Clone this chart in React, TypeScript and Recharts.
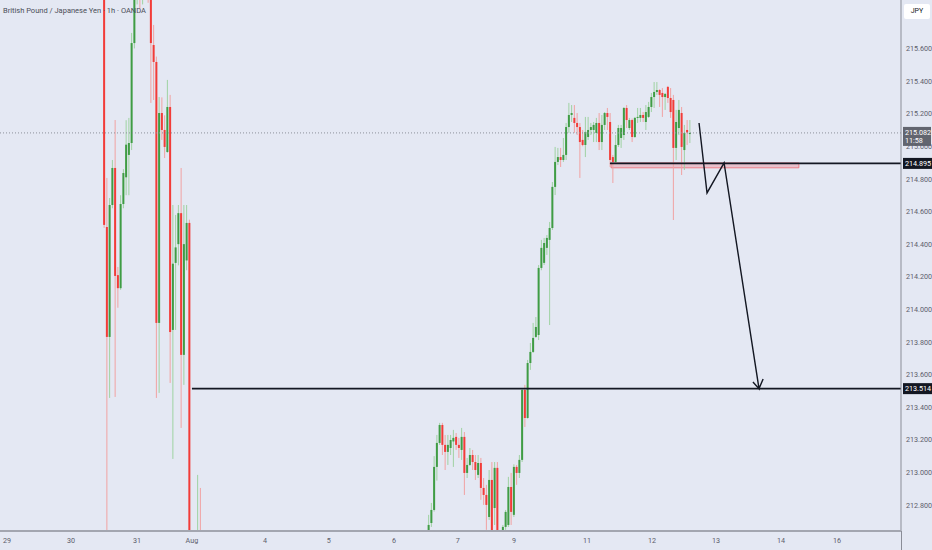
import React from 'react';
import { ComposedChart, Bar, Line, XAxis, YAxis, ReferenceLine, ReferenceArea } from 'recharts';

// ---- data (hourly candles, [open, high, low, close]) ----
const julyStart = 38;
const julyCandles: number[][] = [
  [216.30, 216.40, 214.50, 214.518],
  [214.505, 214.806, 212.30, 213.831],
  [213.831, 214.683, 213.457, 214.640],
  [214.640, 214.916, 214.620, 214.867],
  [214.867, 215.161, 213.463, 214.205],
  [214.21, 214.26, 214.01, 214.13],
  [214.13, 214.70, 214.12, 214.646],
  [214.646, 214.86, 214.62, 214.836],
  [214.81, 215.16, 214.70, 215.01],
  [214.947, 215.174, 214.70, 215.02],
  [215.02, 215.695, 214.977, 215.633],
  [215.633, 216.05, 215.60, 216.00],
  [216.00, 216.10, 215.87, 216.05],
  [216.05, 216.12, 215.84, 215.95],
  [215.95, 216.10, 215.87, 216.05],
  [216.05, 216.20, 215.98, 216.10],
  [216.10, 216.15, 215.88, 216.00],
  [216.00, 216.05, 215.266, 215.633],
  [215.621, 215.744, 215.284, 215.517],
  [215.517, 215.55, 213.457, 213.917],
  [213.917, 215.302, 213.488, 215.204],
  [215.204, 215.30, 215.039, 215.10],
  [215.10, 215.19, 214.928, 214.996],
  [214.965, 215.407, 214.96, 215.241],
  [215.241, 215.315, 213.549, 213.861],
  [213.874, 214.64, 213.083, 214.28],
  [214.285, 214.579, 213.874, 214.38],
  [214.40, 214.64, 214.27, 214.59],
  [214.59, 214.867, 213.273, 213.721],
  [213.721, 214.64, 213.537, 214.40],
  [214.30, 214.64, 214.24, 214.53],
  [214.53, 214.55, 212.20, 212.30],
  [212.30, 212.38, 212.10, 212.25],
  [212.25, 212.35, 212.05, 212.20],
  [212.20, 212.985, 212.10, 212.35],
  [212.35, 212.905, 212.15, 212.25],
];

const augStart = 156;
const augCandles: number[][] = [
  [212.62, 212.74, 212.55, 212.678],
  [212.69, 212.813, 212.666, 212.77],
  [212.77, 213.10, 212.76, 213.034],
  [213.034, 213.230, 212.95, 213.181],
  [213.181, 213.304, 213.169, 213.291],
  [213.291, 213.304, 213.107, 213.169],
  [213.169, 213.23, 213.015, 213.126],
  [213.126, 213.23, 213.046, 213.169],
  [213.15, 213.23, 213.107, 213.199],
  [213.19, 213.261, 213.034, 213.212],
  [213.218, 213.242, 213.138, 213.169],
  [213.169, 213.212, 213.089, 213.150],
  [213.138, 213.273, 213.077, 213.218],
  [213.218, 213.248, 212.862, 212.997],
  [212.997, 213.089, 212.966, 213.046],
  [213.046, 213.150, 213.04, 213.107],
  [213.107, 213.138, 213.015, 213.064],
  [213.064, 213.107, 212.954, 213.015],
  [212.985, 213.107, 212.966, 213.058],
  [213.058, 213.089, 212.832, 212.905],
  [212.905, 212.966, 212.801, 212.862],
  [212.862, 212.924, 212.648, 212.801],
  [212.727, 213.015, 212.709, 212.954],
  [212.954, 213.064, 212.30, 212.35],
  [212.782, 213.064, 212.678, 213.028],
  [213.028, 213.064, 212.30, 212.35],
  [212.35, 212.40, 212.20, 212.30],
  [212.30, 212.678, 212.25, 212.666],
  [212.666, 212.770, 212.648, 212.758],
  [212.678, 212.973, 212.666, 212.911],
  [212.911, 212.997, 212.678, 212.758],
  [212.740, 213.05, 212.727, 213.034],
  [213.034, 213.046, 212.924, 212.997],
  [212.997, 213.107, 212.966, 213.077],
  [213.077, 213.518, 213.064, 213.506],
  [213.506, 213.537, 213.279, 213.334],
  [213.334, 213.69, 213.33, 213.671],
  [213.671, 213.794, 213.629, 213.739],
  [213.739, 213.917, 213.733, 213.825],
  [213.831, 213.953, 213.825, 213.892],
  [213.843, 214.272, 213.812, 214.254],
  [214.254, 214.426, 214.24, 214.377],
  [214.285, 214.438, 214.272, 214.407],
  [214.377, 214.456, 214.334, 214.438],
  [214.426, 214.536, 213.904, 214.499],
  [214.499, 214.781, 214.487, 214.751],
  [214.751, 214.996, 214.701, 214.904],
  [214.904, 214.990, 214.885, 214.934],
  [214.934, 214.99, 214.873, 214.916],
  [214.916, 215.051, 214.904, 214.947],
  [214.947, 215.143, 214.916, 215.118],
  [215.118, 215.266, 215.082, 215.192],
  [215.192, 215.253, 215.149, 215.204],
  [215.174, 215.253, 215.082, 215.143],
  [215.143, 215.204, 215.069, 215.118],
  [215.118, 215.143, 214.806, 215.026],
  [215.039, 215.10, 215.0, 215.008],
  [215.008, 215.180, 214.934, 215.088],
  [215.057, 215.18, 215.039, 215.10],
  [215.10, 215.143, 215.069, 215.118],
  [215.10, 215.149, 215.026, 215.131],
  [215.082, 215.174, 215.026, 215.143],
  [215.143, 215.204, 214.977, 215.026],
  [215.026, 215.192, 214.977, 215.131],
  [215.131, 215.210, 215.10, 215.204],
  [215.204, 215.235, 215.10, 215.180],
  [215.149, 215.204, 214.873, 214.916],
  [214.934, 214.947, 214.775, 214.904],
  [214.904, 215.069, 214.898, 215.008],
  [215.008, 215.131, 214.996, 215.112],
  [215.051, 215.131, 214.990, 215.112],
  [215.069, 215.24, 215.039, 215.235],
  [215.235, 215.253, 215.112, 215.161],
  [215.112, 215.174, 215.10, 215.161],
  [215.161, 215.17, 215.026, 215.057],
  [215.057, 215.18, 215.051, 215.174],
  [215.174, 215.235, 215.143, 215.180],
  [215.174, 215.235, 215.149, 215.192],
  [215.192, 215.21, 215.149, 215.174],
  [215.149, 215.253, 215.10, 215.210],
  [215.180, 215.272, 215.174, 215.241],
  [215.241, 215.327, 215.21, 215.302],
  [215.302, 215.394, 215.235, 215.333],
  [215.333, 215.394, 215.315, 215.345],
  [215.345, 215.35, 215.241, 215.315],
  [215.327, 215.357, 215.180, 215.302],
  [215.302, 215.327, 215.223, 215.321],
  [215.364, 215.37, 215.266, 215.296],
  [215.296, 215.357, 215.174, 215.210],
  [215.284, 215.315, 214.548, 214.990],
  [214.990, 215.223, 214.916, 215.149],
  [215.112, 215.284, 215.069, 215.223],
  [215.204, 215.241, 214.824, 214.996],
  [214.977, 215.131, 214.855, 215.082],
  [215.10, 215.161, 215.008, 215.085],
  [215.075, 215.161, 215.02, 215.082],
];

const slotCount = 327.64;
const dayTickSlots = [2.55, 25.8, 49.8, 69.8, 96.4, 119.6, 143.3, 166.5, 186.9, 213.5, 237.1, 260.4, 284.0, 304.4];
const dayTickLabels = ['29', '30', '31', 'Aug', '4', '5', '6', '7', '9', '11', '12', '13', '14', '16'];
const priceTicks = [212.8, 213.0, 213.2, 213.4, 213.6, 213.8, 214.0, 214.2, 214.4, 214.6, 214.8, 215.0, 215.2, 215.4, 215.6];
const priceDomain = [212.641, 215.897];

const lastPrice = 215.082;
const countdown = '11:58';
const supportLevel = 214.895;
const targetLevel = 213.514;
const supportStartSlot = 221.8;
const targetStartSlot = 69.8;
const zoneSlots = [222.2, 290.5];
const zonePrices = [214.868, 214.898];
const projectionSlots = [254.2, 257.1, 263.3, 276.0, 273.8, 276.0, 277.5];
const projectionPrices = [215.143, 214.714, 214.898, 213.514, 213.555, 213.514, 213.573];

// ---- styles ----
const BG = '#e4e8f3';
const FONT = 'Roboto, "Noto Sans", sans-serif';
const UP = '#3f9c44';
const DOWN = '#f23c38';
const UP_WICK = '#9fd2a2';
const DOWN_WICK = '#f1a2a2';
const INK = '#131722';
const AXIS_TEXT = '#5d606b';
const CHART_H = 550;
const X_AXIS_H = 19;
const DAY_LABEL_BASELINE = CHART_H - X_AXIS_H + 12;

const candles = [
  ...julyCandles.map((c, k) => ({ i: julyStart + k, o: c[0], h: c[1], l: c[2], c: c[3] })),
  ...augCandles.map((c, k) => ({ i: augStart + k, o: c[0], h: c[1], l: c[2], c: c[3] })),
];
const projection = projectionSlots.map((s, k) => ({ i: s, p: projectionPrices[k] }));

const Wick = (p: any) => {
  if (p.x == null || p.y == null) return null;
  const top = Math.min(p.y, p.y + p.height);
  const h = Math.max(Math.abs(p.height), 1);
  const up = p.payload.c >= p.payload.o;
  return <rect x={p.x + p.width / 2 - 0.5} y={top} width={1} height={h} fill={up ? UP_WICK : DOWN_WICK} />;
};

const Body = (p: any) => {
  if (p.x == null || p.y == null) return null;
  const top = Math.min(p.y, p.y + p.height);
  const h = Math.max(Math.abs(p.height), 1);
  const up = p.payload.c >= p.payload.o;
  return <rect x={p.x} y={top} width={p.width} height={h} fill={up ? UP : DOWN} />;
};

const PriceTick = (p: any) => (
  <text x={p.x + 3} y={p.y + 2.6} fontSize={7.2} fill={AXIS_TEXT} fontFamily={FONT} textAnchor="start">
    {Number(p.payload.value).toFixed(3)}
  </text>
);

const DayTick = (p: any) => {
  const k = dayTickSlots.indexOf(p.payload.value);
  return (
    <text x={p.x} y={DAY_LABEL_BASELINE} fontSize={7.2} fill={AXIS_TEXT} fontFamily={FONT} textAnchor="middle">
      {dayTickLabels[k]}
    </text>
  );
};

const LevelTag = (p: any) => {
  const vb = p.viewBox || {};
  const right = (vb.x || 0) + (vb.width || 0);
  const y = vb.y || 0;
  return (
    <g>
      <rect x={right + 2} y={y - 5.5} width={29} height={11} fill={INK} />
      <text x={right + 4} y={y + 2.6} fontSize={7.2} fill="#ffffff" fontFamily={FONT}>{p.text}</text>
    </g>
  );
};

const LastTag = (p: any) => {
  const vb = p.viewBox || {};
  const right = (vb.x || 0) + (vb.width || 0);
  const y = vb.y || 0;
  return (
    <g>
      <rect x={right + 2} y={y - 6} width={28} height={19} fill="#62656f" />
      <text x={right + 4} y={y + 2.2} fontSize={7.2} fill="#ffffff" fontFamily={FONT}>{lastPrice.toFixed(3)}</text>
      <text x={right + 4} y={y + 10.5} fontSize={7.2} fill="#ffffff" fontFamily={FONT}>{countdown}</text>
    </g>
  );
};

export default function App() {
  return (
    <div style={{ position: 'absolute', left: 0, top: 0, width: 932, height: CHART_H, background: BG, fontFamily: FONT, overflow: 'hidden' }}>
      <ComposedChart width={932} height={CHART_H} data={candles} margin={{ top: 0, right: 0, bottom: 0, left: 0 }}>
        <XAxis
          xAxisId="t"
          type="number"
          dataKey="i"
          domain={[0, slotCount]}
          allowDataOverflow
          ticks={dayTickSlots}
          interval={0}
          tick={<DayTick />}
          tickLine={false}
          axisLine={{ stroke: '#9a9da8', strokeWidth: 2 }}
          height={X_AXIS_H}
        />
        <XAxis xAxisId="w" type="number" dataKey="i" domain={[0, slotCount]} allowDataOverflow hide />
        <XAxis xAxisId="d" type="number" dataKey="i" domain={[0, slotCount]} allowDataOverflow hide />
        <YAxis
          orientation="right"
          type="number"
          domain={priceDomain}
          allowDataOverflow
          ticks={priceTicks}
          interval={0}
          width={31}
          tick={<PriceTick />}
          tickLine={false}
          tickSize={0}
          axisLine={{ stroke: '#8a8d97' }}
        />
        <ReferenceLine xAxisId="d" y={lastPrice} stroke="#8d909a" strokeDasharray="1 2" />
        <Bar xAxisId="w" dataKey={(d: any) => [d.l, d.h]} barSize={2} shape={Wick} isAnimationActive={false} />
        <Bar xAxisId="t" dataKey={(d: any) => [Math.min(d.o, d.c), Math.max(d.o, d.c)]} barSize={2} shape={Body} isAnimationActive={false} />
        <ReferenceArea
          xAxisId="d"
          x1={zoneSlots[0]}
          x2={zoneSlots[1]}
          y1={zonePrices[0]}
          y2={zonePrices[1]}
          fill="#f23645"
          fillOpacity={0.22}
          stroke="#f36b75"
          strokeOpacity={0.8}
        />
        <ReferenceLine
          xAxisId="d"
          segment={[{ x: supportStartSlot, y: supportLevel }, { x: slotCount, y: supportLevel }]}
          stroke={INK}
          strokeWidth={1.6}
        />
        <ReferenceLine
          xAxisId="d"
          segment={[{ x: targetStartSlot, y: targetLevel }, { x: slotCount, y: targetLevel }]}
          stroke={INK}
          strokeWidth={1.6}
        />
        <Line
          xAxisId="d"
          data={projection}
          dataKey="p"
          stroke={INK}
          strokeWidth={1.4}
          dot={false}
          activeDot={false}
          isAnimationActive={false}
        />
        <ReferenceLine xAxisId="d" y={lastPrice} stroke="none" label={<LastTag />} />
        <ReferenceLine xAxisId="d" y={supportLevel} stroke="none" label={<LevelTag text={supportLevel.toFixed(3)} />} />
        <ReferenceLine xAxisId="d" y={targetLevel} stroke="none" label={<LevelTag text={targetLevel.toFixed(3)} />} />
      </ComposedChart>
      <div style={{ position: 'absolute', left: 0, top: CHART_H - X_AXIS_H - 1, width: 901, height: 2, background: '#a3a6b0' }} />
      <div style={{ position: 'absolute', left: 3, top: 7, fontSize: 7.5, lineHeight: '8px', color: '#4a4d57', whiteSpace: 'nowrap' }}>
        British Pound / Japanese Yen · 1h · OANDA
      </div>
      <div style={{ position: 'absolute', left: 904, top: 4, width: 26, height: 15, background: '#ffffff', borderRadius: 2, fontSize: 7, lineHeight: '15px', textAlign: 'center', color: INK }}>
        JPY
      </div>
      <div style={{ position: 'absolute', left: 901, top: 531, width: 1, height: 19, background: '#8a8d97' }} />
    </div>
  );
}
